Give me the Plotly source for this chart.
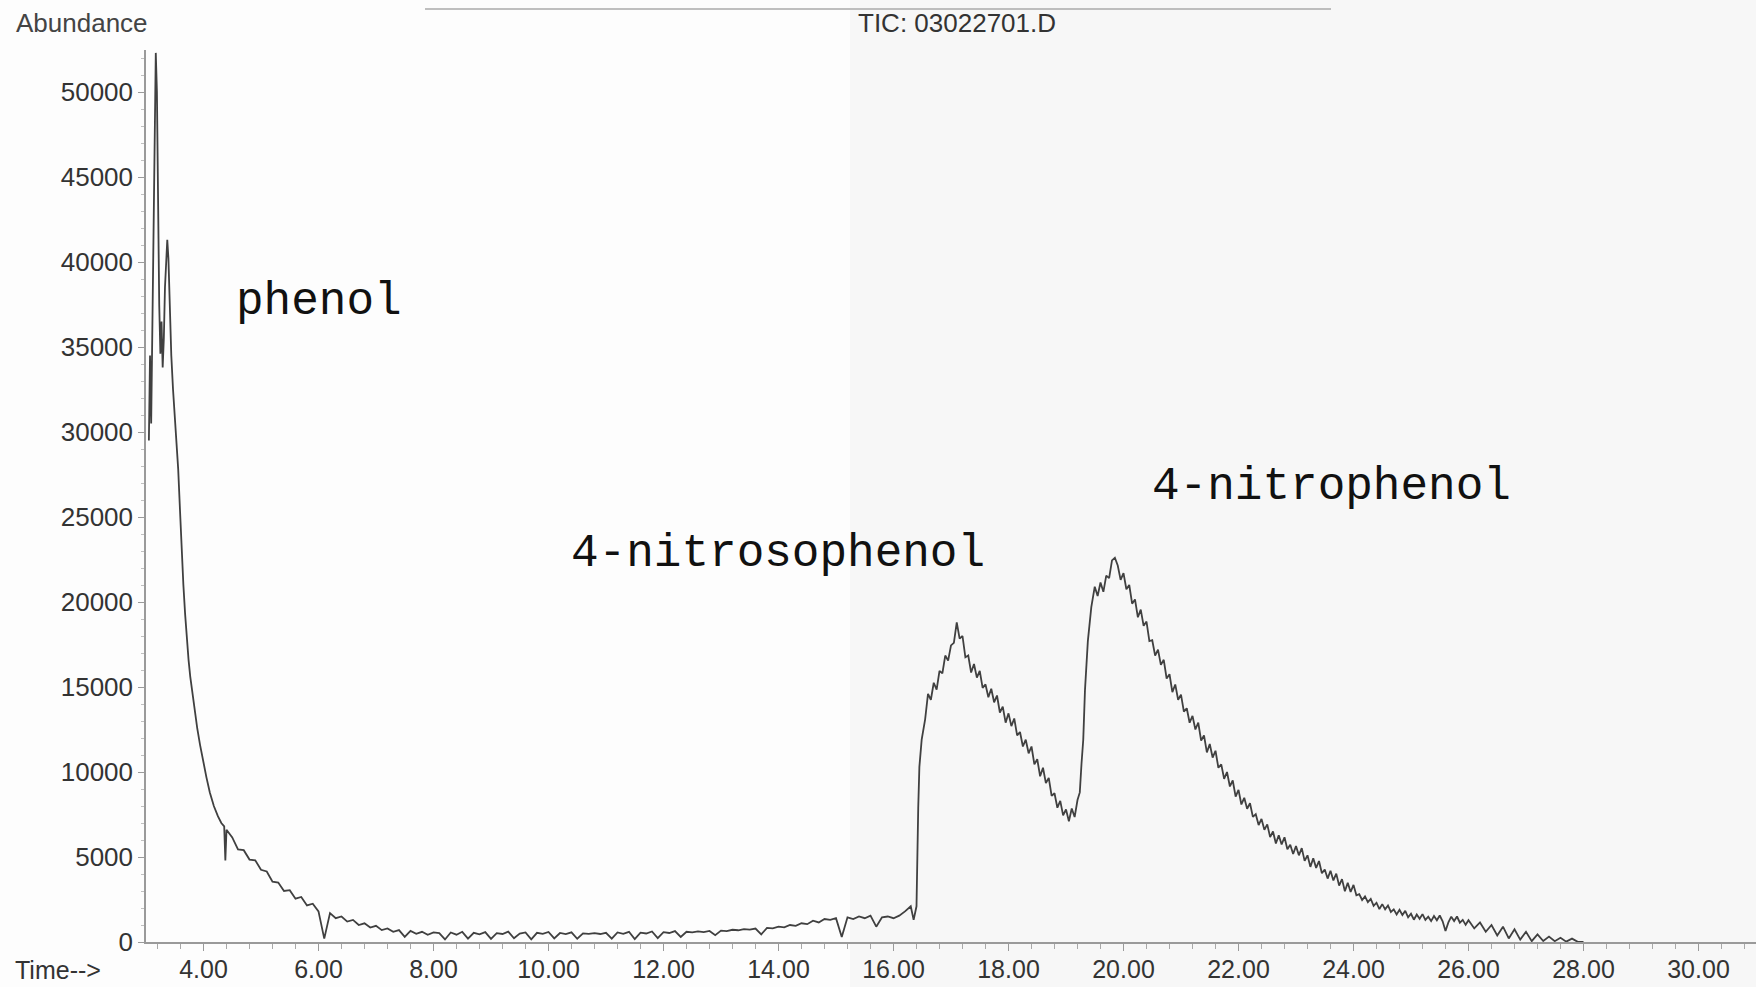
import plotly.graph_objects as go

# ---------------- data ----------------
# phenol peak region (min, abundance)
t_phenol = [3.05, 3.07, 3.09, 3.11, 3.13, 3.15, 3.17, 3.19, 3.21, 3.23, 3.25, 3.27, 3.29, 3.31, 3.33,
            3.35, 3.37, 3.39, 3.41, 3.44, 3.47, 3.50, 3.53, 3.56, 3.59, 3.62, 3.65, 3.68, 3.71, 3.74,
            3.77, 3.80, 3.84, 3.89, 3.94, 3.99, 4.05, 4.11, 4.18, 4.25, 4.31, 4.36, 4.38, 4.40, 4.45]
v_phenol = [29500, 34500, 30500, 36000, 44000, 49500, 52300, 50000, 43000, 37500, 34600, 36500, 33800, 35500, 38500,
            40500, 41300, 40200, 37500, 34500, 32500, 31000, 29500, 27800, 25500, 23000, 21000, 19300, 17800, 16600,
            15600, 14800, 13700, 12600, 11600, 10700, 9700, 8800, 8000, 7400, 7000, 6800, 4800, 6600, 6350]

# phenol tail
t_tail = [4.5, 4.6, 4.7, 4.8, 4.9, 5.0, 5.1, 5.2, 5.3, 5.4, 5.5, 5.6, 5.7, 5.8, 5.9, 6.0, 6.1, 6.2,
          6.3, 6.4, 6.5, 6.6, 6.7, 6.8, 6.9, 7.0, 7.1, 7.2, 7.3, 7.4, 7.5, 7.6, 7.7, 7.8, 7.9, 8.0]
v_tail = [6150, 5450, 5400, 4850, 4800, 4250, 4150, 3550, 3500, 3000, 3050, 2550, 2650, 2150, 2250, 1800, 200, 1700,
          1400, 1500, 1200, 1300, 1000, 1100, 850, 950, 700, 800, 600, 700, 300, 650, 480, 600, 420, 560]

# baseline
t_base = [8.1, 8.2, 8.3, 8.4, 8.5, 8.6, 8.7, 8.8, 8.9, 9.0,
          9.1, 9.2, 9.3, 9.4, 9.5, 9.6, 9.7, 9.8, 9.9, 10.0,
          10.1, 10.2, 10.3, 10.4, 10.5, 10.6, 10.7, 10.8, 10.9, 11.0,
          11.1, 11.2, 11.3, 11.4, 11.5, 11.6, 11.7, 11.8, 11.9, 12.0,
          12.1, 12.2, 12.3, 12.4, 12.5, 12.6, 12.7, 12.8, 12.9, 13.0,
          13.1, 13.2, 13.3, 13.4, 13.5, 13.6, 13.7, 13.8, 13.9, 14.0,
          14.1, 14.2, 14.3, 14.4, 14.5, 14.6, 14.7, 14.8, 14.9, 15.0,
          15.1, 15.2, 15.3, 15.4, 15.5, 15.6, 15.7, 15.8, 15.9, 16.0,
          16.1, 16.2, 16.3]
v_base = [520, 150, 560, 430, 600, 200, 540, 450, 580, 180,
          520, 470, 610, 220, 500, 560, 160, 540, 480, 590,
          210, 530, 460, 570, 190, 510, 480, 520, 470, 540,
          200, 560, 480, 600, 170, 550, 500, 620, 230, 580,
          530, 640, 300, 600, 570, 620, 580, 650, 400, 670,
          640, 720, 690, 760, 730, 790, 450, 830, 800, 900,
          860, 1000, 950, 1100, 1050, 1250, 1150, 1350, 1300, 1400,
          300, 1450, 1350, 1500, 1400, 1550, 900, 1450, 1500, 1400,
          1550, 1800, 2100]

# 4-nitrosophenol
t_nitroso = [16.35, 16.40, 16.43, 16.45, 16.49, 16.55,
             16.60, 16.65, 16.70, 16.75, 16.80, 16.85, 16.90, 16.95, 17.00, 17.05,
             17.10, 17.15, 17.20, 17.25, 17.30, 17.35, 17.40, 17.45, 17.50, 17.55,
             17.60, 17.65, 17.70, 17.75, 17.80, 17.85, 17.90, 17.95, 18.00, 18.05,
             18.10, 18.15, 18.20, 18.25, 18.30, 18.35, 18.40, 18.45, 18.50, 18.55,
             18.60, 18.65, 18.70, 18.75, 18.80, 18.85, 18.90, 18.95, 19.00, 19.05,
             19.10, 19.15, 19.20]
v_nitroso = [1300, 2100, 7900, 10300, 11900, 13100,
             14600, 14250, 15250, 14850, 15950, 15800, 16850, 16550, 17450, 17600,
             18800, 17850, 18000, 16750, 16850, 15850, 16350, 15550, 15950, 14950,
             15150, 14400, 14900, 14100, 14500, 13500, 13850, 12900, 13450, 12700,
             13150, 12150, 12350, 11500, 11900, 11100, 11500, 10450, 10750, 9750,
             10250, 9350, 9650, 8600, 8750, 7900, 8300, 7450, 7800, 7100,
             7850, 7350, 8350]

# 4-nitrophenol
t_nitro = [19.24, 19.27, 19.30, 19.33, 19.38, 19.44,
           19.50, 19.55, 19.60, 19.65, 19.70, 19.75, 19.80, 19.85, 19.90, 19.95,
           20.00, 20.05, 20.10, 20.15, 20.20, 20.25, 20.30, 20.35, 20.40, 20.45,
           20.50, 20.55, 20.60, 20.65, 20.70, 20.75, 20.80, 20.85, 20.90, 20.95,
           21.00, 21.05, 21.10, 21.15, 21.20, 21.25, 21.30, 21.35, 21.40, 21.45,
           21.50, 21.55, 21.60, 21.65, 21.70, 21.75, 21.80, 21.85, 21.90, 21.95,
           22.00, 22.05, 22.10, 22.15, 22.20, 22.25, 22.30, 22.35, 22.40, 22.45,
           22.50, 22.55, 22.60, 22.65, 22.70, 22.75, 22.80, 22.85, 22.90, 22.95,
           23.00, 23.05, 23.10, 23.15, 23.20, 23.25, 23.30, 23.35, 23.40, 23.45,
           23.50, 23.55, 23.60, 23.65, 23.70, 23.75, 23.80, 23.85, 23.90, 23.95,
           24.00, 24.05, 24.10, 24.15, 24.20, 24.25, 24.30, 24.35, 24.40, 24.45,
           24.50, 24.55, 24.60, 24.65, 24.70, 24.75, 24.80, 24.85, 24.90, 24.95,
           25.00, 25.05, 25.10, 25.15, 25.20, 25.25, 25.30, 25.35, 25.40, 25.45,
           25.50, 25.55, 25.60, 25.65, 25.70, 25.75, 25.80, 25.85, 25.90, 25.95,
           26.00, 26.1, 26.2, 26.3, 26.4, 26.5, 26.6, 26.7, 26.8, 26.9,
           27.0, 27.1, 27.2, 27.3, 27.4, 27.5, 27.6, 27.7, 27.8, 27.9, 28.0]
v_nitro = [8800, 10500, 11900, 14800, 17700, 19700,
           20900, 20350, 21150, 20600, 21550, 21400, 22450, 22600, 22150, 21300,
           21700, 20750, 21000, 19900, 20150, 19100, 19550, 18600, 18850, 17700,
           17750, 16850, 17200, 16300, 16600, 15500, 15750, 14700, 15150, 14250,
           14550, 13550, 13750, 12900, 13300, 12500, 12900, 11850, 12150, 11150,
           11650, 10850, 11250, 10250, 10450, 9600, 10000, 9150, 9500, 8550,
           8950, 8090, 8480, 7840, 8160, 7360, 7520, 6880, 7240, 6600,
           6920, 6170, 6500, 5790, 6280, 5740, 6160, 5460, 5720, 5180,
           5640, 5100, 5520, 4770, 5100, 4420, 4930, 4360, 4760, 4040,
           4270, 3730, 4190, 3620, 4020, 3320, 3700, 2990, 3480, 2940,
           3360, 2750, 2820, 2470, 2680, 2340, 2530, 2130, 2310, 1940,
           2230, 1920, 2150, 1770, 1920, 1620, 1890, 1590, 1830, 1450,
           1660, 1310, 1620, 1365, 1640, 1300, 1490, 1230, 1530, 1280,
           1560, 1220, 650, 1150, 1490, 1230, 1500, 1135, 1300, 1010,
           1280, 800, 1150, 600, 1000, 380, 900, 210, 750, 140,
           600, 50, 450, 60, 320, 50, 250, 20, 200, 10, 0]

x_ticks = [4, 6, 8, 10, 12, 14, 16, 18, 20, 22, 24, 26, 28, 30]
y_ticks = [0, 5000, 10000, 15000, 20000, 25000, 30000, 35000, 40000, 45000, 50000]

labels = ["phenol", "4-nitrosophenol", "4-nitrophenol"]
label_t = [4.53, 10.36, 20.46]
label_v = [37650, 22820, 26760]

for a, b in [(t_phenol, v_phenol), (t_tail, v_tail), (t_base, v_base), (t_nitroso, v_nitroso), (t_nitro, v_nitro)]:
    assert len(a) == len(b), (len(a), len(b))

time = t_phenol + t_tail + t_base + t_nitroso + t_nitro
abund = v_phenol + v_tail + v_base + v_nitroso + v_nitro

# ---------------- figure ----------------
W, H = 1756, 987
L, R, T, B = 146, 0, 50, 45
pw, ph = W - L - R, H - T - B


def px(xpix):
    return (xpix - L) / pw


def py(ypix):
    return (H - B - ypix) / ph


fig = go.Figure()
fig.add_trace(go.Scatter(x=time, y=abund, mode="lines",
                         line=dict(color="#404040", width=1.8),
                         hoverinfo="skip", showlegend=False))

axis_font = dict(family="Liberation Sans, Arial, sans-serif", size=26, color="#333333")
xtick_font = dict(family="Liberation Sans, Arial, sans-serif", size=25, color="#333333")

fig.update_layout(
    width=W, height=H,
    margin=dict(l=L, r=R, t=T, b=B),
    paper_bgcolor="#fdfdfd",
    plot_bgcolor="rgba(0,0,0,0)",
    xaxis=dict(range=[3.0, 31.0], tickvals=x_ticks, tickformat=".2f", automargin=False,
               showline=True, linecolor="#9a9a9a", linewidth=1.5,
               ticks="outside", ticklen=7, tickcolor="#9a9a9a", tickwidth=1.2,
               minor=dict(dtick=0.4, tick0=0, ticks="outside", ticklen=5, tickcolor="#a8a8a8"),
               showgrid=False, zeroline=False, tickfont=xtick_font, ticklabelstandoff=-3),
    yaxis=dict(range=[0, ph / 0.017], tickvals=y_ticks, tickformat="d", automargin=False,
               showline=True, linecolor="#9a9a9a", linewidth=1.5,
               ticks="outside", ticklen=6, tickcolor="#9a9a9a",
               minor=dict(dtick=1000, ticks="outside", ticklen=3, tickcolor="#c0c0c0"),
               showgrid=False, zeroline=False, tickfont=axis_font),
    shapes=[
        dict(type="rect", xref="paper", yref="paper", x0=px(850), x1=1.0,
             y0=py(H), y1=py(0), fillcolor="#f7f7f7", line=dict(width=0), layer="below"),
        dict(type="line", xref="paper", yref="paper", x0=px(425), x1=px(1331),
             y0=py(9), y1=py(9), line=dict(color="#aaaaaa", width=1.5)),
    ],
)

fig.add_annotation(text="Abundance", xref="paper", yref="paper", x=px(14), y=py(23),
                   xanchor="left", yanchor="middle", showarrow=False,
                   font=dict(family="Liberation Sans, Arial, sans-serif", size=26, color="#444444"))
fig.add_annotation(text="TIC: 03022701.D", xref="paper", yref="paper", x=px(957), y=py(23),
                   xanchor="center", yanchor="middle", showarrow=False,
                   font=dict(family="Liberation Sans, Arial, sans-serif", size=26, color="#333333"))
fig.add_annotation(text="Time-->", xref="paper", yref="paper", x=px(13), y=py(970),
                   xanchor="left", yanchor="middle", showarrow=False,
                   font=dict(family="Liberation Sans, Arial, sans-serif", size=25, color="#333333"))

for txt, tx, ty in zip(labels, label_t, label_v):
    fig.add_annotation(text=txt, x=tx, y=ty, xref="x", yref="y",
                       xanchor="left", yanchor="middle", showarrow=False,
                       font=dict(family="Courier New, Liberation Mono, monospace", size=46, color="#111111"))

fig.write_html("out.html")
